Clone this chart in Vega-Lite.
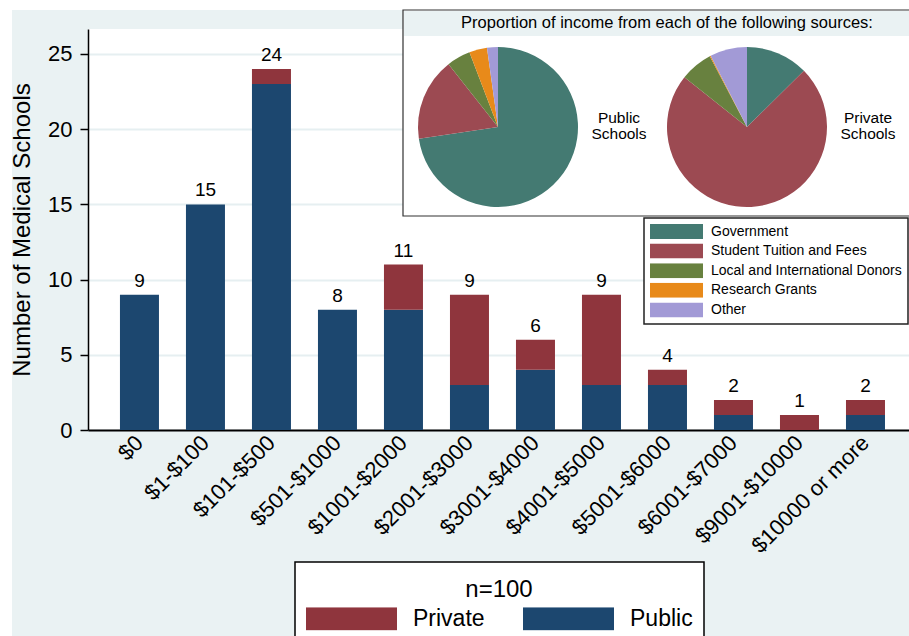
{
  "$schema": "https://vega.github.io/schema/vega-lite/v6.json",
  "width": 821,
  "height": 401,
  "autosize": {"type": "none"},
  "padding": {"left": 88, "top": 29, "right": 0, "bottom": 206},
  "background": "#eaf2f3",
  "config": {
    "font": "Liberation Sans",
    "view": {"fill": "white", "stroke": null},
    "legend": {"strokeWidth": 1.5}
  },
  "datasets": {
    "bars": [
      {"bracket": "$0", "type": "Public", "n": 9},
      {"bracket": "$1-$100", "type": "Public", "n": 15},
      {"bracket": "$101-$500", "type": "Public", "n": 23},
      {"bracket": "$101-$500", "type": "Private", "n": 1},
      {"bracket": "$501-$1000", "type": "Public", "n": 8},
      {"bracket": "$1001-$2000", "type": "Public", "n": 8},
      {"bracket": "$1001-$2000", "type": "Private", "n": 3},
      {"bracket": "$2001-$3000", "type": "Public", "n": 3},
      {"bracket": "$2001-$3000", "type": "Private", "n": 6},
      {"bracket": "$3001-$4000", "type": "Public", "n": 4},
      {"bracket": "$3001-$4000", "type": "Private", "n": 2},
      {"bracket": "$4001-$5000", "type": "Public", "n": 3},
      {"bracket": "$4001-$5000", "type": "Private", "n": 6},
      {"bracket": "$5001-$6000", "type": "Public", "n": 3},
      {"bracket": "$5001-$6000", "type": "Private", "n": 1},
      {"bracket": "$6001-$7000", "type": "Public", "n": 1},
      {"bracket": "$6001-$7000", "type": "Private", "n": 1},
      {"bracket": "$9001-$10000", "type": "Private", "n": 1},
      {"bracket": "$10000 or more", "type": "Public", "n": 1},
      {"bracket": "$10000 or more", "type": "Private", "n": 1}
    ],
    "pie": [
      {"school": "Public", "source": "Government", "share": 72.6},
      {"school": "Public", "source": "Student Tuition and Fees", "share": 16.7},
      {"school": "Public", "source": "Local and International Donors", "share": 4.8},
      {"school": "Public", "source": "Research Grants", "share": 3.6},
      {"school": "Public", "source": "Other", "share": 2.2},
      {"school": "Private", "source": "Government", "share": 12.6},
      {"school": "Private", "source": "Student Tuition and Fees", "share": 73.1},
      {"school": "Private", "source": "Local and International Donors", "share": 6.6},
      {"school": "Private", "source": "Research Grants", "share": 0.2},
      {"school": "Private", "source": "Other", "share": 7.5}
    ],
    "pielabels": [
      {"school": "Public", "label": "Public Schools"},
      {"school": "Private", "label": "Private Schools"}
    ]
  },
  "layer": [
    {
      "data": {"values": [{}]},
      "mark": {"type": "rect", "fill": "white"},
      "encoding": {"x": {"value": -88}, "x2": {"value": -76}, "y": {"value": -29}, "y2": {"value": 607}}
    },
    {
      "data": {"values": [{}]},
      "mark": {"type": "rect", "fill": "white"},
      "encoding": {"x": {"value": -88}, "x2": {"value": 821}, "y": {"value": -29}, "y2": {"value": -19}}
    },
    {
      "data": {"name": "bars"},
      "layer": [
        {
          "mark": {"type": "bar"},
          "encoding": {
            "x": {
              "field": "bracket", "type": "nominal", "sort": null,
              "scale": {
                "domain": ["$0", "$1-$100", "$101-$500", "$501-$1000", "$1001-$2000", "$2001-$3000", "$3001-$4000", "$4001-$5000", "$5001-$6000", "$6001-$7000", "$9001-$10000", "$10000 or more"],
                "paddingInner": 0.409, "paddingOuter": 0.424, "align": 0.571
              },
              "axis": {
                "title": null, "labelAngle": -45, "labelAlign": "right", "labelBaseline": "middle",
                "labelFontSize": 22, "labelColor": "black", "ticks": false, "tickSize": 0,
                "labelPadding": 9, "domainColor": "black", "domainWidth": 2, "grid": false
              }
            },
            "y": {
              "field": "n", "type": "quantitative", "stack": "zero",
              "scale": {"domain": [0, 26.66], "nice": false},
              "axis": {
                "values": [0, 5, 10, 15, 20, 25], "title": "Number of Medical Schools",
                "titleFontSize": 24, "titleFontWeight": "normal", "titleColor": "black", "titlePadding": 13,
                "labelFontSize": 22, "labelColor": "black", "labelPadding": 8,
                "tickSize": 8, "tickColor": "black", "tickWidth": 1.5,
                "domainColor": "black", "domainWidth": 1.5,
                "gridColor": "#e6eff1", "gridWidth": 2
              }
            },
            "color": {
              "field": "type", "type": "nominal",
              "scale": {"domain": ["Private", "Public"], "range": ["#8f353d", "#1c476f"]},
              "legend": {
                "orient": "none", "legendX": 207, "legendY": 533,
                "direction": "horizontal", "columns": 2,
                "title": "n=100", "titleFontSize": 24, "titleFontWeight": "normal", "titleColor": "black",
                "titleAnchor": "middle", "titleAlign": "center", "titlePadding": 10,
                "labelFontSize": 23, "labelColor": "black", "labelOffset": 16,
                "columnPadding": 38, "padding": 11,
                "fillColor": "white", "strokeColor": "black",
                "symbolType": "M-1,-0.2527L1,-0.2527L1,0.2527L-1,0.2527Z",
                "symbolSize": 8281, "symbolStrokeWidth": 0, "symbolOpacity": 1, "clipHeight": 23,
                "encode": {"title": {"update": {"dy": {"value": 5}}}}
              }
            },
            "order": {"field": "type", "sort": "descending"}
          }
        },
        {
          "transform": [{"aggregate": [{"op": "sum", "field": "n", "as": "total"}], "groupby": ["bracket"]}],
          "mark": {"type": "text", "baseline": "alphabetic", "dy": -8, "fontSize": 19, "color": "black"},
          "encoding": {
            "x": {"field": "bracket", "type": "nominal", "sort": null},
            "y": {"field": "total", "type": "quantitative"},
            "text": {"field": "total", "type": "quantitative"}
          }
        }
      ]
    },
    {
      "data": {"values": [{}]},
      "mark": {"type": "rect", "fill": "white", "stroke": "#333333", "strokeWidth": 1.2},
      "encoding": {"x": {"value": 315}, "x2": {"value": 826}, "y": {"value": -19}, "y2": {"value": 187}}
    },
    {
      "data": {"values": [{}]},
      "mark": {"type": "rect", "fill": "#eaf2f3"},
      "encoding": {"x": {"value": 316}, "x2": {"value": 821}, "y": {"value": -18}, "y2": {"value": 7}}
    },
    {
      "data": {"values": [{}]},
      "mark": {"type": "text", "align": "center", "baseline": "middle", "fontSize": 16.5, "color": "black"},
      "encoding": {"x": {"value": 579}, "y": {"value": -6}, "text": {"value": "Proportion of income from each of the following sources:"}}
    },
    {
      "layer": [
        {
          "data": {"name": "pie"},
          "transform": [{"stack": "share", "groupby": ["school"], "offset": "normalize", "as": ["s0", "s1"]}],
          "mark": {"type": "arc", "outerRadius": 80},
          "encoding": {
            "x": {"field": "school", "type": "nominal", "scale": {"type": "point", "domain": ["Public", "Private"], "range": [410, 659], "padding": 0}, "axis": null},
            "y": {"value": 98},
            "theta": {"field": "s0", "type": "quantitative", "scale": {"domain": [0, 1]}},
            "theta2": {"field": "s1"},
            "color": {
              "field": "source", "type": "nominal",
              "scale": {
                "domain": ["Government", "Student Tuition and Fees", "Local and International Donors", "Research Grants", "Other"],
                "range": ["#447a72", "#9c4a52", "#68813f", "#e88a1a", "#a29ad6"]
              },
              "legend": {
                "orient": "none", "legendX": 556, "legendY": 189, "title": null, "direction": "vertical",
                "labelFontSize": 14, "labelColor": "black", "labelOffset": 8, "labelLimit": 400,
                "padding": 6, "rowPadding": 4.6,
                "fillColor": "white", "strokeColor": "#222222",
                "symbolType": "M-1,-0.283L1,-0.283L1,0.283L-1,0.283Z",
                "symbolSize": 2809, "symbolStrokeWidth": 0, "symbolOpacity": 1, "clipHeight": 15
              }
            }
          }
        },
        {
          "data": {"name": "pielabels"},
          "mark": {"type": "text", "lineBreak": " ", "fontSize": 15.5, "lineHeight": 16, "dx": 121, "align": "center", "baseline": "middle", "color": "black"},
          "encoding": {
            "x": {"field": "school", "type": "nominal", "scale": {"type": "point", "domain": ["Public", "Private"], "range": [410, 659], "padding": 0}, "axis": null},
            "y": {"value": 89},
            "text": {"field": "label"}
          }
        }
      ]
    }
  ],
  "resolve": {"scale": {"x": "independent", "color": "independent"}}
}
